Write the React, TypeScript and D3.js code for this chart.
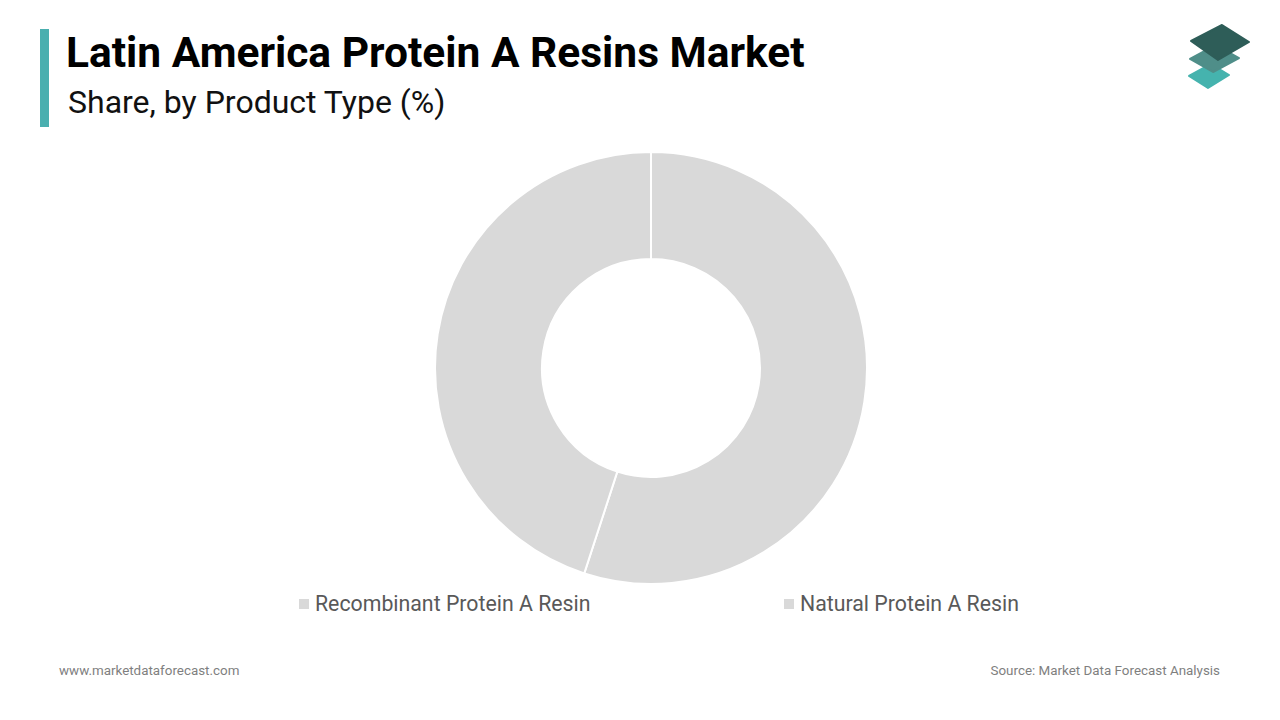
import React from "react";
import * as d3 from "d3";

const categories = ["Recombinant Protein A Resin", "Natural Protein A Resin"];
const shares = [55, 45];
const colors = ["#d9d9d9", "#d9d9d9"];

export default function App() {
  const W = 1280, H = 720;
  const cx = 651, cy = 368, rOuter = 216, rInner = 109;
  const pie = d3.pie<number>().sort(null).value((d) => d)(shares);
  const arc = d3.arc<d3.PieArcDatum<number>>().innerRadius(rInner).outerRadius(rOuter);
  const legendX = [299, 784];
  const font = "Roboto, 'Noto Sans', sans-serif";
  return (
    <svg width={W} height={H} style={{ position: "absolute", left: 0, top: 0, background: "#fff" }} fontFamily={font}>
      <rect x={40} y={29} width={9} height={98} fill="#4aafaf" />
      <text x={66} y={67} fontSize={42.5} fontWeight={700} fill="#000">Latin America Protein A Resins Market</text>
      <text x={68} y={113} fontSize={32} fill="#111">Share, by Product Type (%)</text>
      <g>
        <polygon points="1189,76 1211,64 1229,75 1208,88" fill="#45b3ae" stroke="#45b3ae" strokeWidth={2} strokeLinejoin="round" />
        <polygon points="1190,59 1216,45 1239,58 1213,72" fill="#4f8e89" stroke="#4f8e89" strokeWidth={2} strokeLinejoin="round" />
        <polygon points="1191,41 1222,25 1249,42 1218,60" fill="#2e5d58" stroke="#2e5d58" strokeWidth={2} strokeLinejoin="round" />
      </g>
      <g transform={`translate(${cx},${cy})`}>
        {pie.map((p, i) => (
          <path key={i} d={arc(p) || ""} fill={colors[i]} stroke="#fff" strokeWidth={2} />
        ))}
      </g>
      {categories.map((c, i) => (
        <g key={c}>
          <rect x={legendX[i]} y={599} width={10} height={10} fill={colors[i]} />
          <text x={legendX[i] + 16} y={611} fontSize={21.3} fill="#595959">{c}</text>
        </g>
      ))}
      <text x={59} y={675} fontSize={13.4} fill="#7f7f7f">www.marketdataforecast.com</text>
      <text x={1220} y={675} fontSize={13.4} fill="#7f7f7f" textAnchor="end">Source: Market Data Forecast Analysis</text>
    </svg>
  );
}
